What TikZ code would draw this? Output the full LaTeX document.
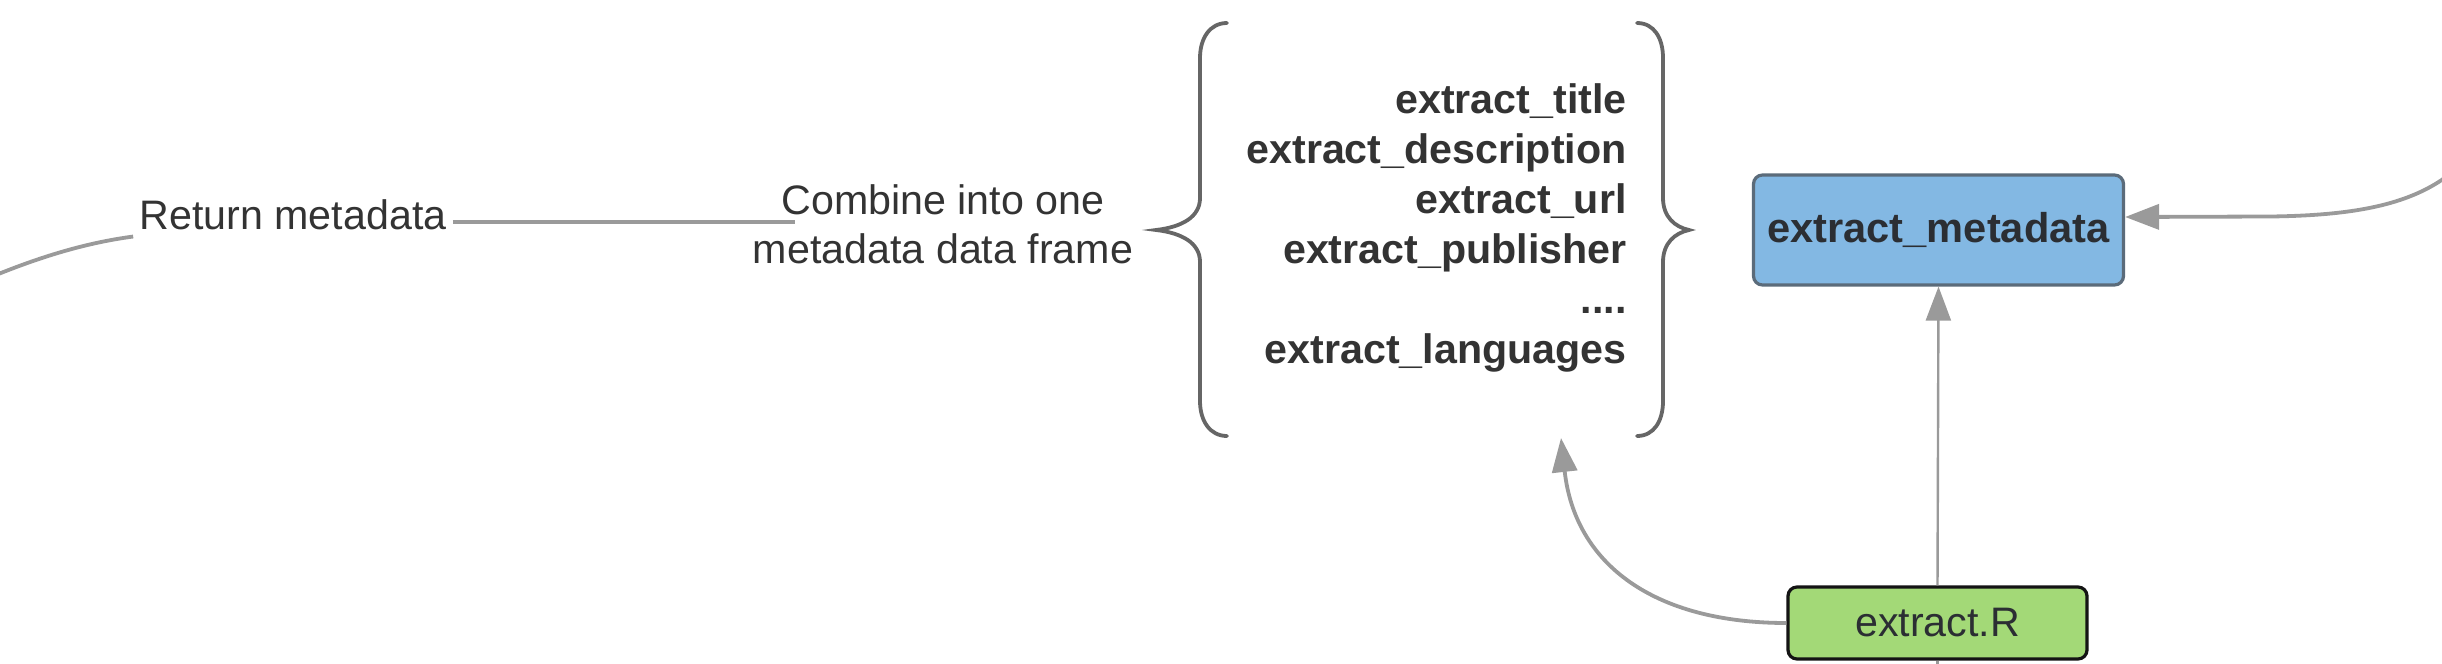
\documentclass[tikz,border=0pt]{standalone}
\usepackage{fontspec}
\setmainfont{Liberation Sans}
\usetikzlibrary{arrows.meta}
\definecolor{txt}{HTML}{333333}
\definecolor{boxtxt}{HTML}{2B2E33}
\definecolor{metafill}{HTML}{83B8E3}
\definecolor{metaborder}{HTML}{5B6B7A}
\definecolor{rfill}{HTML}{A3D977}
\definecolor{rborder}{HTML}{141414}
\definecolor{arrowgray}{HTML}{9A9A9A}
\definecolor{bracegray}{HTML}{666666}
\begin{document}
\begin{tikzpicture}[x=0.5pt,y=-0.5pt,
  lbl/.style={font=\fontsize{20.6}{24.5}\selectfont, text=txt, inner sep=0pt},
  fnlist/.style={font=\fontsize{20.6}{25}\selectfont\bfseries, text=txt, align=right, inner sep=0pt},
  bluebox/.style={draw=metaborder, fill=metafill, line width=1.6pt, rounded corners=4.5pt,
    minimum width=185pt, minimum height=55pt, inner sep=0pt,
    font=\fontsize{20.8}{24.5}\selectfont\bfseries, text=boxtxt},
  greenbox/.style={draw=rborder, fill=rfill, line width=1.6pt, rounded corners=4.5pt,
    minimum width=149.5pt, minimum height=36pt, inner sep=0pt,
    font=\fontsize{20.6}{24.5}\selectfont, text=boxtxt},
  conn/.style={draw=arrowgray, line width=1.9pt},
  thinconn/.style={draw=arrowgray, line width=1.2pt},
  arr/.style={-{Triangle[length=17pt,width=12.5pt]}},
  bracepath/.style={draw=bracegray, line width=1.9pt, line cap=round}
]
\useasboundingbox (0,0) rectangle (2442,664);
\clip (0,0) rectangle (2442,664);

% text nodes
\node[lbl, inner sep=3pt] (ret) at (293,215) {Return metadata};
\node[lbl, align=center] (comb) at (943,224) {Combine into one\\metadata data frame};
\node[fnlist, anchor=east] (fns) at (1627,228)
  {extract\_title\\extract\_description\\extract\_url\\extract\_publisher\\....\\extract\_languages};

% boxes
\node[bluebox] (meta) at (1938.5,230) {extract\_metadata};
\node[greenbox] (rfile) at (1937.5,623) {extract.R};

% free ends
\coordinate (combL) at (795,222);
\coordinate (lc) at (-50,295);
\coordinate (rc) at (2500,110);
\coordinate (bc) at (1937.5,720);
\coordinate (fnTip) at (1561,438);

% braces
\draw[bracepath] (1227,23) .. controls (1210,23) and (1200,38) .. (1200,58)
  -- (1200,198) .. controls (1200,217) and (1182,227) .. (1156,230)
  .. controls (1182,233) and (1200,243) .. (1200,262)
  -- (1200,401) .. controls (1200,421) and (1210,436) .. (1227,436);
\draw[bracepath] (1637,23) .. controls (1654,23) and (1663,38) .. (1663,58)
  -- (1663,198) .. controls (1663,217) and (1675,227) .. (1689,230)
  .. controls (1675,233) and (1663,243) .. (1663,262)
  -- (1663,401) .. controls (1663,421) and (1654,436) .. (1637,436);

% connectors
\draw[conn] (ret.south west) .. controls (85,243) and (30,258) .. (lc);
\draw[conn] (ret.east |- combL) -- (combL);
\draw[conn, arr] (rc) .. controls (2460,190) and (2400,215) .. (2270,216.5)
  -- ([yshift=6.5pt]meta.east);
\draw[thinconn, arr] (rfile.north) -- (meta.south);
\draw[conn, arr] (rfile.west) .. controls (1655,623) and (1575,565) .. (fnTip);
\draw[thinconn] (rfile.south) -- (bc);
\end{tikzpicture}
\end{document}
